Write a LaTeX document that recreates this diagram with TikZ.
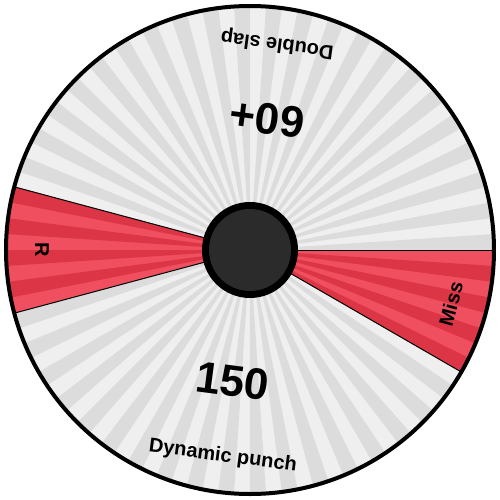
\documentclass[tikz,border=0pt]{standalone}
\usepackage{fontspec}
\setmainfont{Liberation Sans}
\definecolor{glight}{HTML}{EFEFEF}
\definecolor{gdark}{HTML}{DCDCDC}
\definecolor{rlight}{HTML}{F04F5F}
\definecolor{rdark}{HTML}{DC3545}
\definecolor{hub}{HTML}{2B2B2B}
\tikzset{
  lbl/.style={font=\bfseries\fontsize{10}{12}\selectfont, inner sep=0pt},
  num/.style={font=\bfseries\fontsize{22}{26}\selectfont, inner sep=0pt},
  edge/.style={line width=0.5pt, black}
}
\begin{document}
\begin{tikzpicture}[x=0.5pt,y=0.5pt]
\useasboundingbox (-250,-250) rectangle (250,250);
\fill[white] (-250,-250) rectangle (250,250);
% base disk
\fill[glight] (0,0) circle[radius=244];
% red sectors base
\fill[rlight] (0,0) -- (165:244) arc[start angle=165, end angle=195, radius=244] -- cycle;
\fill[rlight] (0,0) -- (330:244) arc[start angle=330, end angle=360, radius=244] -- cycle;
% dark stripes
\foreach \k in {0,2,...,94} {
  \pgfmathsetmacro\a{\k*3.75}
  \pgfmathsetmacro\b{\a+3.75}
  \pgfmathparse{((\a>164.9 && \a<194.9) || \a>329.9) ? 1 : 0}
  \ifnum\pgfmathresult=1
    \fill[rdark] (0,0) -- (\a:244) arc[start angle=\a, end angle=\b, radius=244] -- cycle;
  \else
    \fill[gdark] (0,0) -- (\a:244) arc[start angle=\a, end angle=\b, radius=244] -- cycle;
  \fi
}
% sector boundaries
\coordinate (c) at (0,0);
\coordinate (e0) at (0:244);
\coordinate (e165) at (165:244);
\coordinate (e195) at (195:244);
\coordinate (e330) at (330:244);
\draw[edge] (c) -- (e0);
\draw[edge] (c) -- (e165);
\draw[edge] (c) -- (e195);
\draw[edge] (c) -- (e330);
% outer rim
\draw[line width=2pt] (0,0) circle[radius=244];
% hub
\fill[black] (0,0) circle[radius=48];
\fill[hub] (0,0) circle[radius=41];
% labels
\node[lbl, rotate=172.5] (lab1) at (82.5:208) {Double slap};
\node[num, rotate=172.5] (num1) at (82.5:132) {60+};
\node[lbl, rotate=270] (lab2) at (180:208) {R};
\node[lbl, rotate=352.5] (lab3) at (262.5:208) {Dynamic punch};
\node[num, rotate=352.5] (num3) at (262.5:132) {150};
\node[lbl, rotate=75] (lab4) at (345:208) {Miss};
\end{tikzpicture}
\end{document}
